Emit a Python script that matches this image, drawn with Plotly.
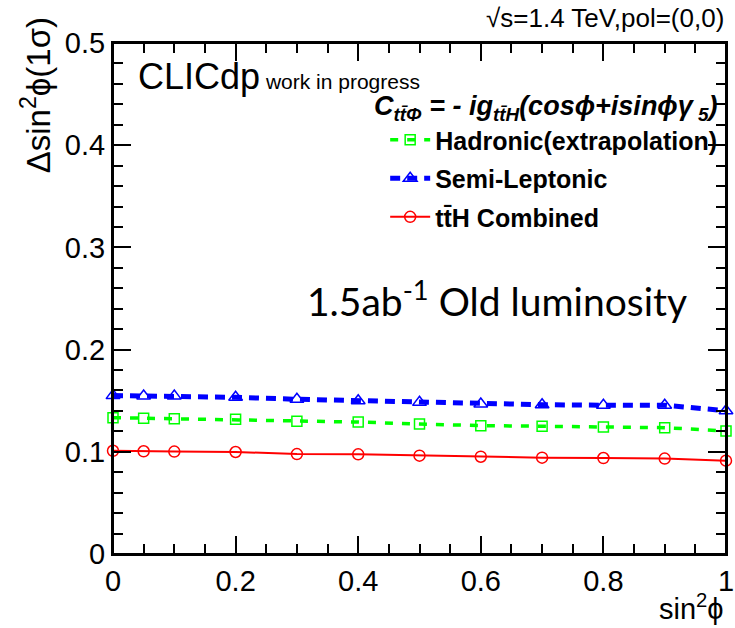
import plotly.graph_objects as go

sin2phi = [0.0, 0.05, 0.1, 0.2, 0.3, 0.4, 0.5, 0.6, 0.7, 0.8, 0.9, 1.0]
hadronic = [0.1334, 0.1328, 0.1324, 0.1318, 0.1298, 0.1291, 0.1272, 0.1256, 0.1250, 0.1243, 0.1236, 0.1204]
semileptonic = [0.1550, 0.1546, 0.1545, 0.1533, 0.1514, 0.1499, 0.1484, 0.1468, 0.1461, 0.1456, 0.1455, 0.1402]
combined = [0.1010, 0.1005, 0.1002, 0.0998, 0.0978, 0.0975, 0.0962, 0.0952, 0.0943, 0.0939, 0.0934, 0.0913]

x_ticks = [0, 0.2, 0.4, 0.6, 0.8, 1]
x_ticklabels = ["0", "0.2", "0.4", "0.6", "0.8", "1"]
y_ticks = [0, 0.1, 0.2, 0.3, 0.4, 0.5]
y_ticklabels = ["0", "0.1", "0.2", "0.3", "0.4", "0.5"]

FONT = "Liberation Sans, Arial, Helvetica, sans-serif"

fig = go.Figure()
fig.add_trace(go.Scatter(
    x=sin2phi, y=hadronic, mode="lines+markers", name="Hadronic(extrapolation)",
    legendgroup="a", cliponaxis=False,
    line=dict(color="#00ff00", width=3.5, dash="8px,9px"),
    marker=dict(symbol="square-open", size=10, color="#00ff00", line=dict(width=1.5)),
))
fig.add_trace(go.Scatter(
    x=sin2phi, y=semileptonic, mode="lines+markers", name="Semi-Leptonic",
    legendgroup="b", cliponaxis=False,
    line=dict(color="#0000ff", width=5, dash="10px,7px"),
    marker=dict(symbol="triangle-up-open", size=12, color="#0000ff", line=dict(width=1.5)),
))
fig.add_trace(go.Scatter(
    x=sin2phi, y=combined, mode="lines+markers", name="tt̄H Combined",
    legendgroup="c", cliponaxis=False,
    line=dict(color="#ff0000", width=2),
    marker=dict(symbol="circle-open", size=11, color="#ff0000", line=dict(width=1.5)),
))

axis_common = dict(
    showgrid=False, zeroline=False, showline=True, linecolor="black", linewidth=2,
    mirror="ticks", ticks="inside", tickcolor="black", tickwidth=2, automargin=False,
    ticklabeloverflow="allow",
    tickfont=dict(family=FONT, size=29, color="black"),
)
fig.update_xaxes(range=[0, 1], tickmode="array", tickvals=x_ticks, ticktext=x_ticklabels,
                 ticklen=18, tickangle=0,
                 minor=dict(tickmode="linear", tick0=0, dtick=0.05, ticks="inside", ticklen=10,
                            tickcolor="black", tickwidth=2),
                 **axis_common)
fig.update_yaxes(range=[0, 0.5], tickmode="array", tickvals=y_ticks, ticktext=y_ticklabels,
                 ticklen=18,
                 minor=dict(tickmode="linear", tick0=0, dtick=0.02, ticks="inside", ticklen=10,
                            tickcolor="black", tickwidth=2),
                 **axis_common)

annotations = [
    dict(text="√s=1.4 TeV,pol=(0,0)", x=1.0, y=1.0, xref="paper", yref="paper",
         xanchor="right", yanchor="bottom", yshift=8, showarrow=False,
         font=dict(family=FONT, size=26, color="black")),
    dict(text="<span style='font-size:36px'>CLICdp</span> work in progress", x=0.038, y=0.935,
         xref="paper", yref="paper", xanchor="left", yanchor="middle", showarrow=False,
         font=dict(family=FONT, size=21, color="black")),
    dict(text="<b><i>C<sub>tt̄Φ</sub> = - ig<sub>tt̄H</sub>(cosϕ+isinϕγ<sub> 5</sub>)</i></b>",
         x=0.99, y=0.872, xref="paper", yref="paper", xanchor="right", yanchor="middle",
         showarrow=False, font=dict(family=FONT, size=27, color="black")),
    dict(text="1.5ab<sup>-1</sup> Old luminosity", x=0.94, y=0.50, xref="paper", yref="paper",
         xanchor="right", yanchor="middle", showarrow=False,
         font=dict(family="Lato, Open Sans, sans-serif", size=39, color="black")),
    dict(text="Δsin<sup>2</sup>ϕ(1σ)", x=-0.125, y=1.055, xref="paper", yref="paper",
         xanchor="center", yanchor="top", textangle=-90, showarrow=False,
         font=dict(family=FONT, size=33, color="black")),
    dict(text="sin<sup>2</sup>ϕ", x=1.0, y=-0.065, xref="paper", yref="paper",
         xanchor="right", yanchor="top", showarrow=False,
         font=dict(family=FONT, size=29, color="black")),
]

fig.update_layout(
    width=735, height=628,
    margin=dict(l=113, r=9, t=43, b=74, autoexpand=False),
    paper_bgcolor="white", plot_bgcolor="white",
    annotations=annotations,
    shapes=[dict(type="rect", xref="paper", yref="paper", x0=0, y0=0, x1=1, y1=1,
                 line=dict(color="black", width=2), layer="above")],
    showlegend=True,
    legend=dict(x=0.444, y=0.855, xanchor="left", yanchor="top",
                bgcolor="rgba(0,0,0,0)", borderwidth=0,
                font=dict(family=FONT, size=25, color="black", weight="bold"),
                tracegroupgap=3, itemwidth=40),
)

fig.write_html(
    "out.html",
    config={"displayModeBar": False},
    post_script="document.body.style.margin='0';document.body.style.overflow='hidden';",
)
